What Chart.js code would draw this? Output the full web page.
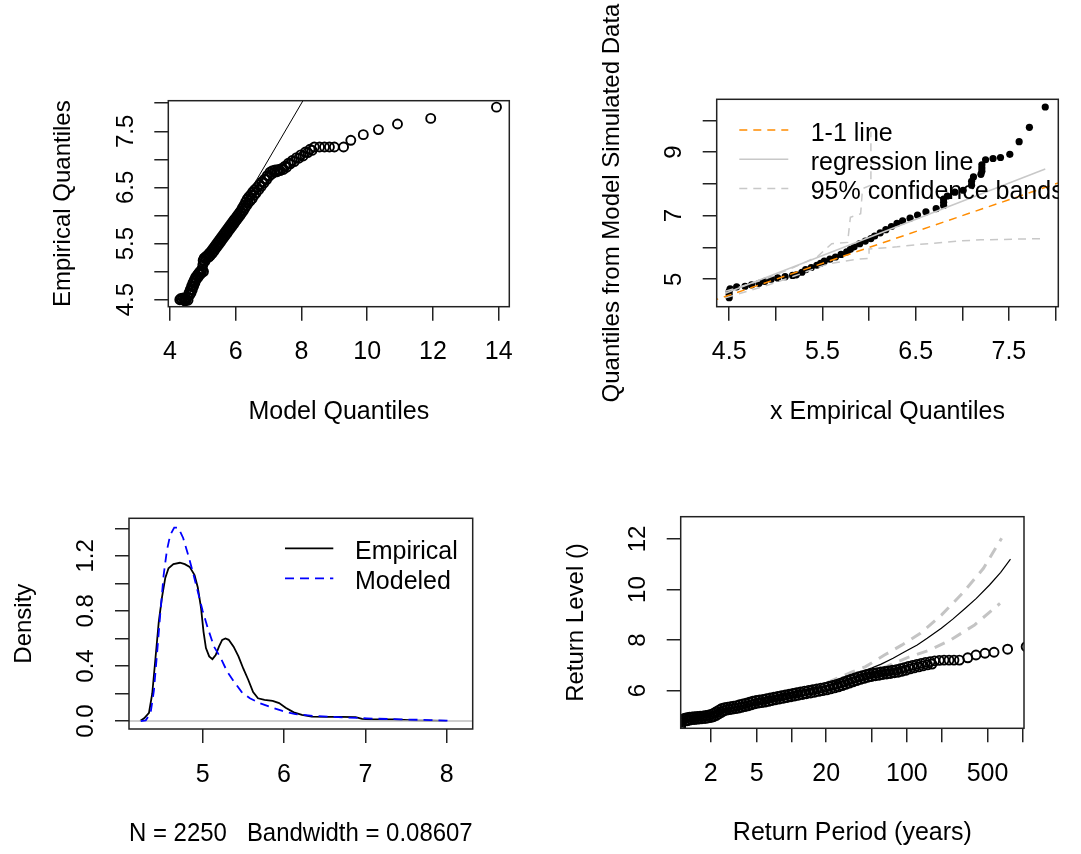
<!DOCTYPE html>
<html>
<head>
<meta charset="utf-8">
<title>fevd diagnostics</title>
<script src="https://cdn.jsdelivr.net/npm/chart.js@4/dist/chart.umd.min.js"></script>
<style>
  html, body { margin: 0; padding: 0; background: #fff; }
  #page { position: relative; width: 1081px; height: 854px; overflow: hidden; background: #fff; }
  #page canvas { position: absolute; }
</style>
</head>
<body>
<div id="page">
  <canvas id="qqPanel"></canvas>
  <canvas id="simPanel"></canvas>
  <canvas id="densPanel"></canvas>
  <canvas id="rlPanel"></canvas>
</div>
<script>
// ---------------- data ----------------

// Quantile-quantile plot: model vs empirical quantiles (two interleaved runs of tied values)
const qqModelQuantiles = [4.30,4.33,4.37,4.40,4.44,4.48,4.52,4.55,4.58,4.62,4.66,4.70,4.74,4.78,4.82,4.86,4.90,4.94,4.98,
  5.00,5.01,5.04,5.08,5.12,5.16,5.20,5.25,5.30,5.35,5.40,5.45,5.50,5.55,5.60,5.65,5.70,5.75,5.80,5.85,5.90,5.95,6.00,6.05,6.10,6.15,6.20,6.25,6.30,6.35,6.40,
  6.46,6.52,6.58,6.65,6.72,6.80,6.88,6.96,7.04,7.12,7.20,7.30,7.40,7.50,7.60,7.72,7.85,7.98,8.12,8.26,8.39,
  8.55,8.70,8.85,9.00,9.28,9.50,9.88,10.34,10.92,11.93,13.93,
  4.46,4.50,4.60,4.64,4.68,4.72,4.76,4.80,4.86,4.92,4.96,5.02,5.06,5.10,5.18,5.22,5.28,5.33,5.38,5.43,5.48,5.53,5.58,5.63,5.68,
  5.73,5.78,5.83,5.88,5.93,5.98,6.03,6.08,6.13,6.18,6.23,6.28,6.33,6.38,6.44,6.50,6.56,6.62,6.70,6.78,6.86,6.94,7.02,7.10,
  7.18,7.26,7.35,7.45,7.55,7.66,7.78,7.92,8.05,8.19,8.32];
const qqEmpiricalQuantiles = [4.50,4.52,4.50,4.53,4.51,4.52,4.55,4.49,4.62,4.68,4.74,4.80,4.85,4.90,4.93,4.96,4.99,5.02,5.05,
  5.12,5.20,5.24,5.26,5.28,5.30,5.33,5.36,5.40,5.44,5.48,5.52,5.56,5.60,5.64,5.68,5.72,5.76,5.80,5.84,5.88,5.92,5.96,6.00,6.04,6.08,6.13,6.18,6.24,6.29,6.33,
  6.37,6.42,6.46,6.50,6.55,6.60,6.65,6.71,6.77,6.80,6.81,6.82,6.84,6.88,6.93,6.98,7.03,7.08,7.13,7.18,7.22,
  7.22,7.22,7.22,7.22,7.22,7.34,7.44,7.53,7.63,7.73,7.93,
  4.48,4.50,4.58,4.62,4.68,4.74,4.80,4.86,4.90,4.95,4.98,5.00,5.18,5.22,5.26,5.28,5.32,5.36,5.40,5.44,5.48,5.52,5.56,5.60,5.64,
  5.68,5.72,5.76,5.80,5.84,5.88,5.92,5.96,6.00,6.04,6.08,6.13,6.18,6.22,6.26,6.30,6.36,6.40,6.46,6.52,6.58,6.64,6.70,6.74,
  6.77,6.78,6.80,6.82,6.86,6.92,6.96,7.02,7.06,7.12,7.16];
const qqIdentity = [3.9, 8.3];
const qqXTicks = [4, 6, 8, 10, 12, 14];
const qqXTickLabels = ['4', '6', '8', '10', '12', '14'];
const qqYTicks = [4.5, 5, 5.5, 6, 6.5, 7, 7.5, 8];
const qqYTickLabels = ['4.5', '', '5.5', '', '6.5', '', '7.5', ''];

// Empirical quantiles vs quantiles from model-simulated data
const simEmpiricalQuantiles = [4.50,4.50,4.50,4.51,4.58,4.67,4.74,4.82,4.88,4.95,5.02,5.10,5.18,5.22,5.28,5.32,5.38,5.44,5.48,5.52,
  5.58,5.64,5.70,5.76,5.80,5.84,5.90,5.96,6.02,6.06,6.12,6.18,6.24,6.30,6.36,6.44,6.52,6.61,6.72,6.80,
  6.80,6.80,6.84,6.92,7.01,7.10,7.10,7.12,7.20,7.21,7.21,7.21,7.25,7.33,7.41,7.51,7.61,7.72,7.89];
const simModelQuantiles = [4.42,4.52,4.62,4.70,4.76,4.78,4.82,4.87,4.93,5.00,5.04,5.08,5.12,5.14,5.22,5.30,5.37,5.44,5.50,5.57,
  5.63,5.70,5.78,5.86,5.94,6.02,6.12,6.20,6.28,6.36,6.46,6.56,6.66,6.76,6.84,6.92,7.02,7.12,7.22,7.32,
  7.42,7.52,7.62,7.74,7.80,7.96,8.08,8.22,8.30,8.40,8.50,8.60,8.76,8.80,8.83,8.93,9.33,9.78,10.42];
const simIdentity = [4.3, 8.1];
const simRegressionX = [4.46, 7.89];
const simRegressionY = [4.56, 8.47];
const simUpperBandX = [4.46, 4.90, 5.20, 5.45, 5.60, 5.77, 5.80, 5.91, 5.93, 6.02, 6.02];
const simUpperBandY = [4.62, 5.02, 5.38, 5.72, 6.12, 6.16, 6.95, 7.06, 7.85, 7.96, 9.65];
const simLowerBandX = [4.46, 4.90, 5.20, 5.50, 5.60, 5.85, 6.00, 6.00, 6.30, 6.55, 7.00, 7.20, 7.89];
const simLowerBandY = [4.42, 4.80, 5.10, 5.42, 5.50, 5.62, 5.66, 5.95, 6.02, 6.10, 6.21, 6.24, 6.28];
const simXTicks = [4.5, 5, 5.5, 6, 6.5, 7, 7.5, 8];
const simXTickLabels = ['4.5', '', '5.5', '', '6.5', '', '7.5', ''];
const simYTicks = [5, 6, 7, 8, 9, 10];
const simYTickLabels = ['5', '', '7', '', '9', ''];

// Kernel density: empirical vs modeled
const densEmpiricalX = [4.23,4.28,4.34,4.38,4.42,4.46,4.50,4.54,4.58,4.64,4.72,4.78,4.84,4.90,4.94,4.98,5.01,5.04,5.08,5.12,
  5.16,5.20,5.24,5.28,5.32,5.38,5.44,5.50,5.56,5.62,5.68,5.76,5.86,5.94,6.02,6.12,6.22,6.34,6.54,6.70,6.88,6.96,7.05,7.35,7.60,8.00];
const densEmpiricalY = [0,0.02,0.06,0.20,0.46,0.72,0.90,1.04,1.11,1.14,1.15,1.14,1.12,1.06,0.97,0.82,0.65,0.53,0.47,0.45,
  0.48,0.54,0.59,0.60,0.59,0.54,0.47,0.38,0.30,0.21,0.165,0.153,0.146,0.13,0.097,0.063,0.044,0.032,0.030,0.030,0.028,0.016,0.012,0.011,0.004,0.001];
const densModeledX = [4.24,4.30,4.36,4.40,4.44,4.48,4.52,4.56,4.60,4.65,4.70,4.76,4.82,4.88,4.94,5.00,5.06,5.14,5.22,5.30,
  5.38,5.48,5.58,5.70,5.82,5.98,6.14,6.38,6.61,7.02,7.43,7.80,8.08];
const densModeledY = [0,0.005,0.06,0.22,0.50,0.79,1.06,1.24,1.35,1.405,1.405,1.33,1.21,1.08,0.94,0.80,0.68,0.54,0.46,0.36,
  0.29,0.21,0.165,0.13,0.105,0.073,0.05,0.036,0.030,0.019,0.012,0.007,0.002];
const densZeroLineX = [4.0, 8.5];
const densZeroLineY = [0, 0];
const densXTicks = [5, 6, 7, 8];
const densXTickLabels = ['5', '6', '7', '8'];
const densYTicks = [0, 0.2, 0.4, 0.6, 0.8, 1.0, 1.2, 1.4];
const densYTickLabels = ['0.0', '', '0.4', '', '0.8', '', '1.2', ''];

// Return level plot: observed levels (two interleaved runs of tied values), model curve, 95% limits
const rlObsPeriod = [1.10,1.10,1.10,1.11,1.13,1.16,1.20,1.25,1.31,1.38,1.45,1.53,1.62,1.72,1.82,1.93,2.04,2.15,2.26,2.38,
  2.50,2.64,2.80,2.97,3.15,3.35,3.56,3.80,4.05,4.32,4.62,4.95,5.30,5.68,6.10,6.55,7.05,7.60,8.20,8.85,
  9.55,10.3,11.1,12.0,13.0,14.1,15.3,16.6,18.0,19.5,21.1,22.8,24.6,26.5,28.5,30.6,32.9,35.4,38.1,41.0,
  44.2,47.6,51.3,55.3,59.6,64.3,69.4,75.0,81.0,87.6,94.8,103,112,122,133,145,159,174,191,210,
  232,256,285,337,397,475,569,746,1080,
  1.25,1.30,1.36,1.44,1.51,1.59,1.68,1.79,1.89,2.01,2.12,2.24,2.35,2.48,2.60,2.75,2.91,3.09,3.28,3.48,
  3.70,3.95,4.21,4.49,4.80,5.15,5.51,5.91,6.34,6.81,7.33,7.90,8.53,9.20,9.93,10.7,11.5,12.5,13.5,14.7,
  15.9,17.3,18.7,20.3,21.9,23.7,25.6,27.6,29.6,31.8,34.2,36.8,39.6,42.6,46.0,49.5,53.4,57.5,62.0,66.9,
  72.2,78.0,84.2,91.1,98.6,107,116,127,138,151,165];
const rlObsLevel = [4.58,4.66,4.74,4.80,4.84,4.88,4.91,4.93,4.95,4.96,4.97,4.98,4.99,5.00,5.02,5.04,5.07,5.12,5.18,5.24,
  5.30,5.33,5.35,5.37,5.39,5.41,5.44,5.47,5.50,5.54,5.58,5.61,5.63,5.65,5.68,5.71,5.74,5.77,5.80,5.83,
  5.86,5.89,5.92,5.95,5.98,6.01,6.04,6.07,6.10,6.13,6.17,6.21,6.25,6.30,6.35,6.40,6.45,6.50,6.55,6.59,
  6.63,6.66,6.69,6.71,6.74,6.76,6.78,6.81,6.83,6.87,6.91,6.96,7.00,7.04,7.08,7.12,7.15,7.18,7.20,7.21,
  7.21,7.21,7.21,7.30,7.41,7.48,7.52,7.64,7.74,
  4.81,4.83,4.85,4.86,4.87,4.88,4.89,4.90,4.92,4.94,4.97,5.02,5.08,5.14,5.20,5.23,5.25,5.27,5.29,5.31,
  5.34,5.37,5.40,5.44,5.48,5.51,5.53,5.55,5.58,5.61,5.64,5.67,5.70,5.73,5.76,5.79,5.82,5.85,5.88,5.91,
  5.94,5.97,6.00,6.03,6.07,6.11,6.15,6.20,6.25,6.30,6.35,6.40,6.45,6.49,6.53,6.56,6.59,6.61,6.64,6.66,
  6.68,6.71,6.73,6.77,6.81,6.86,6.90,6.94,6.98,7.02,7.05];
const rlModelPeriod = [1.1, 2, 5, 10, 20, 37, 50, 60, 76, 95, 123, 150, 199, 250, 321, 400, 520, 650, 790];
const rlModelLevel = [4.72, 5.10, 5.50, 5.82, 6.18, 6.69, 6.90, 7.05, 7.28, 7.53, 7.81, 8.07, 8.47, 8.83, 9.26, 9.65, 10.18, 10.68, 11.2];
const rlUpperPeriod = [1.1, 2, 5, 10, 20, 34, 44, 64, 91, 131, 199, 303, 461, 662];
const rlUpperLevel = [4.76, 5.16, 5.57, 5.90, 6.30, 6.75, 6.95, 7.41, 7.81, 8.27, 8.99, 9.85, 10.84, 12.03];
const rlLowerPeriod = [1.1, 2, 5, 10, 20, 35, 59, 100, 156, 238, 386, 641];
const rlLowerLevel = [4.68, 5.04, 5.43, 5.74, 6.06, 6.45, 6.85, 7.30, 7.60, 8.00, 8.60, 9.45];
const rlXTicks = [2, 5, 10, 20, 50, 100, 200, 500, 1000];
const rlXTickLabels = ['2', '5', '', '20', '', '100', '', '500', ''];
const rlYTicks = [6, 8, 10, 12];
const rlYTickLabels = ['6', '8', '10', '12'];

// ---------------- look ----------------
const FONT = '"Liberation Sans", Arial, Helvetica, sans-serif';
const FS_H = 25;            // horizontal text (x axes, legends)
const FS_V = 24;            // rotated text (y axes)
const LH_H = FS_H * 1.2;
const LH_V = FS_V * 1.2;
const GLYPH_H = FS_H * 0.05; // digit/capital centre sits this far above the 'middle' baseline
const GLYPH_V = FS_V * 0.05;
const TICK_LEN = 14;
const AXIS_COLOR = '#222';
const AXIS_LW = 1.5;
const X_LABEL_GAP = 44.5;   // box bottom -> centre of x tick labels
const X_TITLE_GAP = 104;    // box bottom -> centre of x title
const Y_LABEL_GAP = 43.5;   // box left -> centre of y tick labels
const Y_TITLE_GAP = 106;    // box left -> centre of y title

const layouts = {
  qq:   { canvas: { x: 0,   y: 0,   w: 540, h: 427 }, box: { l: 168.3, r: 509.3,  t: 100.7, b: 306.7 } },
  sim:  { canvas: { x: 540, y: 0,   w: 541, h: 427 }, box: { l: 716.7, r: 1058.3, t: 99.3,  b: 306.7 } },
  dens: { canvas: { x: 0,   y: 427, w: 540, h: 427 }, box: { l: 129,   r: 472.7,  t: 518.3, b: 729 } },
  rl:   { canvas: { x: 540, y: 427, w: 541, h: 427 }, box: { l: 680.7, r: 1024,   t: 516.7, b: 728.3 } }
};

Chart.defaults.font.family = FONT;
Chart.defaults.font.size = FS_V;
Chart.defaults.color = '#000';

const measureCtx = document.createElement('canvas').getContext('2d');
function textWidth(s, size) {
  measureCtx.font = size + 'px ' + FONT;
  return measureCtx.measureText(s).width;
}

const pts = (xs, ys) => xs.map((x, i) => ({ x, y: ys[i] }));

function lineSet(label, xs, ys, color, width, dash) {
  return { label, data: pts(xs, ys), showLine: true, borderColor: color, borderWidth: width,
    borderDash: dash || [], pointRadius: 0, pointHoverRadius: 0, fill: false, tension: 0, clip: 0 };
}
function pointSet(label, xs, ys, radius, filled, border) {
  return { label, data: pts(xs, ys), showLine: false, pointStyle: 'circle', pointRadius: radius,
    pointHoverRadius: radius, pointBorderColor: '#000', pointBorderWidth: filled ? 0 : border,
    pointBackgroundColor: filled ? '#000' : 'rgba(0,0,0,0)', borderColor: '#000', clip: 0 };
}

// Plot frame drawn round the data region
const frame = {
  id: 'frame',
  afterDatasetsDraw(chart) {
    const { ctx, chartArea: a } = chart;
    ctx.save();
    ctx.strokeStyle = AXIS_COLOR;
    ctx.lineWidth = AXIS_LW;
    ctx.strokeRect(a.left, a.top, a.right - a.left, a.bottom - a.top);
    ctx.restore();
  }
};

// Borderless legend with line samples, clipped to the plot region
const lineLegend = {
  id: 'lineLegend',
  afterDatasetsDraw(chart, args, opts) {
    if (!opts || !opts.items) return;
    const { ctx, chartArea: a } = chart;
    ctx.save();
    ctx.beginPath();
    ctx.rect(a.left, a.top, a.right - a.left, a.bottom - a.top);
    ctx.clip();
    ctx.font = FS_H + 'px ' + FONT;
    ctx.textAlign = 'left';
    ctx.textBaseline = 'alphabetic';
    opts.items.forEach((idx, i) => {
      const ds = chart.data.datasets[idx];
      const y = a.top + opts.top + i * opts.rowGap;
      ctx.save();
      ctx.strokeStyle = ds.borderColor;
      ctx.lineWidth = ds.borderWidth;
      ctx.setLineDash(ds.borderDash || []);
      ctx.beginPath();
      ctx.moveTo(a.left + opts.x0, y);
      ctx.lineTo(a.left + opts.x1, y);
      ctx.stroke();
      ctx.restore();
      ctx.fillStyle = '#000';
      ctx.fillText(ds.label, a.left + opts.textX, y + opts.textDrop);
    });
    ctx.restore();
  }
};

function makePanel(id, lay, spec) {
  const el = document.getElementById(id);
  const c = lay.canvas, b = lay.box;
  el.width = c.w; el.height = c.h;
  el.style.left = c.x + 'px'; el.style.top = c.y + 'px';
  el.style.width = c.w + 'px'; el.style.height = c.h + 'px';
  const boxL = b.l - c.x, boxR = b.r - c.x, boxT = b.t - c.y, boxB = b.b - c.y;
  const widest = Math.max(...spec.y.labels.map(s => textWidth(s, FS_V)));
  const fontH = { family: FONT, size: FS_H };
  const fontV = { family: FONT, size: FS_V };
  const tickMarks = { display: true, drawOnChartArea: false, drawTicks: true, tickLength: TICK_LEN,
    color: AXIS_COLOR, lineWidth: AXIS_LW };

  return new Chart(el, {
    type: 'scatter',
    data: { datasets: spec.datasets },
    options: {
      responsive: false,
      animation: false,
      devicePixelRatio: 1,
      events: [],
      layout: { padding: { left: 0, top: boxT, right: c.w - boxR, bottom: 0 } },
      plugins: {
        legend: { display: false },
        tooltip: { enabled: false },
        lineLegend: spec.legend || {}
      },
      scales: {
        x: {
          type: spec.x.type || 'linear',
          position: 'bottom',
          min: spec.x.min, max: spec.x.max,
          grid: tickMarks,
          border: { display: false },
          afterBuildTicks: s => { s.ticks = spec.x.ticks.map(v => ({ value: v })); },
          afterFit: s => { s.height = c.h - boxB; },
          ticks: {
            autoSkip: false, maxRotation: 0, minRotation: 0,
            padding: X_LABEL_GAP + GLYPH_H - TICK_LEN - LH_H / 2,
            font: fontH, color: '#000',
            callback: (v, i) => spec.x.labels[i]
          },
          title: {
            display: true, text: spec.x.title, font: fontH, color: '#000',
            padding: { top: 0, bottom: c.h - LH_H / 2 - boxB - X_TITLE_GAP - GLYPH_H }
          }
        },
        y: {
          type: 'linear',
          position: 'left',
          min: spec.y.min, max: spec.y.max,
          grid: tickMarks,
          border: { display: false },
          afterBuildTicks: s => { s.ticks = spec.y.ticks.map(v => ({ value: v })); },
          afterFit: s => { s.width = boxL; },
          ticks: {
            autoSkip: false, minRotation: 90, maxRotation: 90, crossAlign: 'center',
            padding: Y_LABEL_GAP - GLYPH_V - TICK_LEN - widest / 2,
            font: fontV, color: '#000',
            callback: (v, i) => spec.y.labels[i]
          },
          title: {
            display: true, text: spec.y.title, font: fontV, color: '#000',
            padding: { top: boxL - Y_TITLE_GAP + GLYPH_V - LH_V / 2, bottom: 0 }
          }
        }
      }
    },
    plugins: [frame, lineLegend]
  });
}

// ---- top left: QQ plot ----
makePanel('qqPanel', layouts.qq, {
  x: { min: 3.95, max: 14.32, ticks: qqXTicks, labels: qqXTickLabels, title: 'Model Quantiles' },
  y: { min: 4.375, max: 8.045, ticks: qqYTicks, labels: qqYTickLabels, title: 'Empirical Quantiles' },
  datasets: [
    lineSet('1-1 line', qqIdentity, qqIdentity, '#000', 1),
    pointSet('quantiles', qqModelQuantiles, qqEmpiricalQuantiles, 4.5, false, 1.9)
  ]
});

// ---- top right: simulated-data QQ plot ----
makePanel('simPanel', layouts.sim, {
  x: { min: 4.366, max: 8.03, ticks: simXTicks, labels: simXTickLabels, title: 'x Empirical Quantiles' },
  y: { min: 4.136, max: 10.662, ticks: simYTicks, labels: simYTickLabels, title: 'Quantiles from Model Simulated Data' },
  datasets: [
    lineSet('1-1 line', simIdentity, simIdentity, '#FF8C00', 1.5, [8, 6]),
    lineSet('regression line', simRegressionX, simRegressionY, '#C8C8C8', 1.5),
    lineSet('95% confidence bands', simUpperBandX, simUpperBandY, '#C8C8C8', 1.5, [8, 6]),
    lineSet('95% confidence bands', simLowerBandX, simLowerBandY, '#C8C8C8', 1.5, [8, 6]),
    pointSet('quantiles', simEmpiricalQuantiles, simModelQuantiles, 3.6, true, 0)
  ],
  legend: { items: [0, 1, 2], top: 30.7, rowGap: 29.2, x0: 22.6, x1: 71.6, textX: 94, textDrop: 10.8 }
});

// ---- bottom left: density ----
makePanel('densPanel', layouts.dens, {
  x: { min: 4.094, max: 8.32, ticks: densXTicks, labels: densXTickLabels, title: 'N = 2250   Bandwidth = 0.08607' },
  y: { min: -0.058, max: 1.473, ticks: densYTicks, labels: densYTickLabels, title: 'Density' },
  datasets: [
    lineSet('Modeled', densModeledX, densModeledY, '#0000FF', 1.8, [9, 6]),
    lineSet('zero', densZeroLineX, densZeroLineY, '#BEBEBE', 1.5),
    lineSet('Empirical', densEmpiricalX, densEmpiricalY, '#000', 1.8)
  ],
  legend: { items: [2, 0], top: 30, rowGap: 30, x0: 156, x1: 204.3, textX: 226, textDrop: 10.8 }
});

// ---- bottom right: return levels ----
makePanel('rlPanel', layouts.rl, {
  x: { type: 'logarithmic', min: 1.1005, max: 1034.4, ticks: rlXTicks, labels: rlXTickLabels, title: 'Return Period (years)' },
  y: { min: 4.511, max: 12.882, ticks: rlYTicks, labels: rlYTickLabels, title: 'Return Level ()' },
  datasets: [
    pointSet('observed', rlObsPeriod, rlObsLevel, 4.5, false, 1.9),
    lineSet('return level', rlModelPeriod, rlModelLevel, '#000', 1.2),
    lineSet('upper 95%', rlUpperPeriod, rlUpperLevel, '#C4C4C4', 3, [11, 8]),
    lineSet('lower 95%', rlLowerPeriod, rlLowerLevel, '#C4C4C4', 3, [11, 8])
  ]
});
</script>
</body>
</html>
